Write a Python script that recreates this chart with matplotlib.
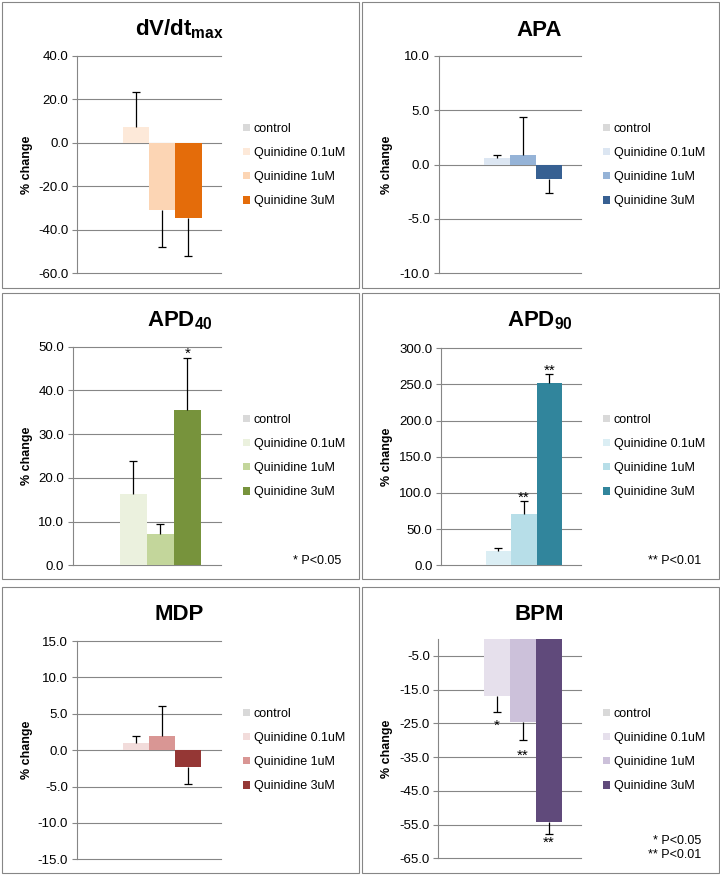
import matplotlib
matplotlib.use("Agg")
import matplotlib.pyplot as plt
from matplotlib.patches import Rectangle
from matplotlib.ticker import FormatStrFormatter
import numpy as np

plt.rcParams['font.family'] = ['Liberation Sans', 'DejaVu Sans']
plt.rcParams['mathtext.fontset'] = 'custom'
plt.rcParams['mathtext.rm'] = 'Liberation Sans:bold'
plt.rcParams['mathtext.it'] = 'Liberation Sans:bold'
plt.rcParams['mathtext.bf'] = 'Liberation Sans:bold'

groups = ["control", "Quinidine 0.1uM", "Quinidine 1uM", "Quinidine 3uM"]

# % change vs control, one-sided error bars (SEM)
dvdt_vals = [0, 7.1, -31.1, -34.8]
dvdt_err = [0, 16.1, 16.9, 17.3]
apa_vals = [0, 0.6, 0.9, -1.3]
apa_err = [0, 0.3, 3.5, 1.3]
apd40_vals = [0, 16.3, 7.2, 35.5]
apd40_err = [0, 7.5, 2.2, 12.0]
apd90_vals = [0, 19.8, 71.0, 251.6]
apd90_err = [0, 3.7, 17.5, 12.4]
mdp_vals = [0, 1.0, 1.9, -2.3]
mdp_err = [0, 0.9, 4.2, 2.4]
bpm_vals = [0, -16.8, -24.5, -54.1]
bpm_err = [0, 4.9, 5.5, 3.7]

apd40_stars = ["", "", "", "*"]
apd90_stars = ["", "", "**", "**"]
bpm_stars = ["", "*", "**", "**"]

dvdt_colors = ['#d9d9d9', '#fde9d9', '#fcd5b4', '#e46c0a']
apa_colors = ['#d9d9d9', '#dce6f2', '#95b3d7', '#376092']
apd40_colors = ['#d9d9d9', '#ebf1de', '#c3d69b', '#77933c']
apd90_colors = ['#d9d9d9', '#dbeef4', '#b7dee8', '#31859c']
mdp_colors = ['#d9d9d9', '#f2dcdb', '#d99694', '#953735']
bpm_colors = ['#d9d9d9', '#e6e0ec', '#ccc1da', '#604a7b']

W, H = 720, 875
fig = plt.figure(figsize=(7.2, 8.75), dpi=100)
gray = '#868686'


def fx(px):
    return px / W


def fy(py):
    return 1 - py / H


panels = [
    dict(title=r"dV/dt$_{max}$", vals=dvdt_vals, err=dvdt_err, colors=dvdt_colors,
         ylim=(-60, 40), step=20, px=1.5, py=1.5, ax_l=77, ax_t=56, ax_b=273),
    dict(title="APA", vals=apa_vals, err=apa_err, colors=apa_colors,
         ylim=(-10, 10), step=5, px=361.5, py=1.5, ax_l=438.7, ax_t=56, ax_b=273.3),
    dict(title=r"APD$_{40}$", vals=apd40_vals, err=apd40_err, colors=apd40_colors,
         ylim=(0, 50), step=10, px=1.5, py=292.5, ax_l=72.7, ax_t=346.7, ax_b=565.3,
         stars=apd40_stars, star_off=[0, 0, 0, 4], notes=["* P<0.05"]),
    dict(title=r"APD$_{90}$", vals=apd90_vals, err=apd90_err, colors=apd90_colors,
         ylim=(0, 300), step=50, px=361.5, py=292.5, ax_l=441, ax_t=348.3, ax_b=565.3,
         stars=apd90_stars, star_off=[0, 0, 4, 4], notes=["** P<0.01"]),
    dict(title="MDP", vals=mdp_vals, err=mdp_err, colors=mdp_colors,
         ylim=(-15, 15), step=5, px=1.5, py=586.5, ax_l=76.7, ax_t=641, ax_b=859.3),
    dict(title="BPM", vals=bpm_vals, err=bpm_err, colors=bpm_colors,
         ylim=(-65, 0), step=10, px=361.5, py=586.5, ax_l=438.3, ax_t=639, ax_b=858.3,
         stars=bpm_stars, star_off=[0, -14, -16, -9], notes=["* P<0.05", "** P<0.01"]),
]

w = 1 / 5.5
x = (np.arange(4) - 1.5) * w

for p in panels:
    px, py = p['px'], p['py']
    fig.add_artist(Rectangle((fx(px), fy(py + 286)), 357 / W, 286 / H,
                             transform=fig.transFigure, fill=False,
                             edgecolor=gray, lw=0.8))

    l, t, b = p['ax_l'], p['ax_t'], p['ax_b']
    r = px + 219.7
    ax = fig.add_axes([fx(l), fy(b), (r - l) / W, (b - t) / H])

    vals = np.array(p['vals'], dtype=float)
    err = np.array(p['err'], dtype=float)
    bars = ax.bar(x, vals, width=w, color=p['colors'], edgecolor='none', zorder=2)

    tips = vals + np.sign(vals) * err
    m = err > 0
    ax.vlines(x[m], vals[m], tips[m], color='k', lw=0.9, zorder=3)
    ax.plot(x[m], tips[m], ls='none', marker='_', ms=5.5, mew=0.9, color='k', zorder=3)

    for i, s in enumerate(p.get('stars', [])):
        if s:
            ax.annotate(s, (x[i], tips[i]), xytext=(0, p['star_off'][i]),
                        textcoords='offset pixels', ha='center', va='center',
                        fontsize=11)

    lo, hi = p['ylim']
    ax.set_xlim(-0.5, 0.5)
    ax.set_ylim(lo, hi)
    ax.set_yticks(np.arange(lo, hi + 0.01, p['step']))
    ax.yaxis.set_major_formatter(FormatStrFormatter('%.1f'))
    ax.set_xticks([])
    ax.yaxis.grid(True, color=gray, lw=0.8)
    for gl in ax.get_ygridlines():
        gl.set_clip_on(False)
    ax.set_axisbelow(True)
    for s in ['top', 'right', 'bottom']:
        ax.spines[s].set_visible(False)
    ax.spines['left'].set_color(gray)
    ax.spines['left'].set_linewidth(0.8)
    ax.tick_params(axis='y', length=3.6, width=0.8, color=gray, labelsize=9.5, pad=2.5)

    ax.legend(bars.patches, groups, loc='center left',
              bbox_to_anchor=(fx(px + 241.5), fy(py + 163.5)),
              bbox_transform=fig.transFigure, frameon=False, fontsize=9,
              handlelength=0.55, handleheight=0.55, handletextpad=0.3,
              labelspacing=0.97, borderpad=0, borderaxespad=0)

    fig.text(fx(px + 178), fy(py + 34), p['title'], ha='center', va='baseline',
             fontsize=16, fontweight='bold')
    fig.text(fx(px + 25.5), fy((t + b) / 2), "% change", rotation=90,
             ha='center', va='center', fontsize=9, fontweight='bold')

    notes = p.get('notes', [])
    for k, note in enumerate(notes):
        yy = py + 269 - (len(notes) - 1 - k) * 15
        fig.text(fx(px + 340), fy(yy), note, ha='right', va='center', fontsize=9)

fig.savefig("out.png", dpi=100)
